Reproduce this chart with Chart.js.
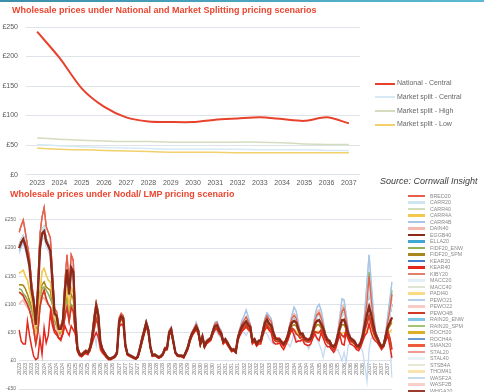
<!DOCTYPE html>
<html>
<head>
<meta charset="utf-8">
<script src="https://cdn.jsdelivr.net/npm/chart.js@4.4.1/dist/chart.umd.min.js"></script>
<style>
  html, body { margin: 0; padding: 0; background: #fff; }
  body { width: 484px; height: 392px; overflow: hidden; position: relative; font-family: "Liberation Sans", Arial, sans-serif; }
  #topbar { position: absolute; left: 0; top: 0; width: 484px; height: 2px; background: linear-gradient(90deg, #3d8eab, #5bbad2); }
  .title { position: absolute; font-weight: bold; color: #ea4630; white-space: nowrap; font-size: 9px; line-height: 11px; }
  #t1 { left: 12px; top: 5px; }
  #t2 { left: 10px; top: 189px; }
  #c1 { position: absolute; left: 0; top: 0; }
  #c2 { position: absolute; left: 0; top: 186px; }
  #source { position: absolute; left: 380px; top: 175px; font-style: italic; font-size: 9px; line-height: 12px; color: #404040; white-space: nowrap; }
</style>
</head>
<body>
<div id="topbar"></div>
<canvas id="c1" width="484" height="195"></canvas>
<canvas id="c2" width="484" height="209"></canvas>
<div class="title" id="t1">Wholesale prices under National and Market Splitting pricing scenarios</div>
<div class="title" id="t2">Wholesale prices under Nodal/ LMP pricing scenario</div>
<div id="source">Source: Cornwall Insight</div>
<script>
// ---- top chart data
const years = ['2023','2024','2025','2026','2027','2028','2029','2030','2031','2032','2033','2034','2035','2036','2037'];
const national     = [242, 198, 146, 115, 97, 90, 89, 89, 93, 95, 97, 94, 91, 97, 87];
const splitCentral = [51, 49, 47, 46, 45, 44, 43, 43, 43, 43, 42, 42, 42, 41, 41];
const splitHigh    = [62, 60, 58, 57, 56, 56, 55, 55, 55, 55, 55, 54, 52, 51, 51];
const splitLow     = [45, 43, 42, 41, 40, 39, 38, 38, 38, 37, 37, 37, 37, 37, 37];
const topNames = ['National - Central', 'Market split - Central', 'Market split - High', 'Market split - Low'];

// ---- bottom chart data (monthly, 2023-2037)
const nodalYears = years;
const nodalMonths = nodalYears.flatMap(y => Array(12).fill(y));

const nodalDark = [
  200,210,216,205,188,168,125,104,64,120,200,226,
  230,212,204,195,140,84,80,57,57,68,125,162,
  118,165,158,70,22,12,10,14,17,15,22,40,
  70,97,80,33,20,14,8,4,4,6,8,15,
  70,79,76,28,12,10,8,6,4,8,22,38,
  52,67,55,25,10,11,9,6,8,12,22,22,
  50,56,35,15,10,9,9,7,15,24,38,48,
  54,61,53,31,43,26,34,37,40,52,62,63,
  54,49,34,38,32,25,19,20,16,40,52,61,
  66,70,64,60,35,38,30,35,36,52,67,73,
  66,63,50,40,38,38,33,30,35,44,59,68,
  71,68,57,47,48,40,38,37,40,52,65,71,
  72,65,57,45,37,35,27,25,30,45,60,72,
  73,62,48,40,37,34,27,26,32,45,64,82,
  96,82,64,48,40,31,25,28,44,60,68,77
];
const nodalSalmon = [
  228,240,250,228,205,182,138,112,72,135,225,255,
  272,238,228,218,155,92,88,62,62,75,142,188,
  132,188,178,80,25,14,12,16,19,17,25,46,
  80,104,88,36,22,15,9,5,5,7,9,17,
  76,84,80,30,13,11,9,7,5,9,24,42,
  56,70,58,27,11,12,10,7,9,13,24,24,
  53,59,37,16,11,10,10,8,16,26,41,51,
  58,65,56,33,45,28,36,39,42,55,66,68,
  58,52,36,40,34,27,21,22,18,43,56,66,
  72,78,70,64,37,40,32,37,38,56,72,80,
  74,70,54,42,40,40,35,32,37,48,64,76,
  80,76,62,50,50,42,40,39,43,56,72,82,
  85,76,63,48,39,37,29,27,33,50,70,88,
  92,72,52,42,39,36,29,28,35,50,75,105,
  150,110,75,52,42,33,27,30,48,70,90,118
];
const nodalPale = [
  205,215,222,208,190,170,128,106,66,124,208,232,
  238,216,208,198,142,86,82,58,58,70,128,168,
  120,170,162,72,23,13,11,15,18,16,23,42,
  74,100,83,34,21,15,9,5,5,7,9,16,
  72,81,78,29,13,11,9,7,5,9,23,40,
  54,69,57,26,11,12,10,7,9,13,23,23,
  52,58,36,16,11,10,10,8,16,25,40,50,
  56,64,55,32,44,27,35,38,41,54,65,66,
  56,51,35,39,33,26,20,21,17,42,54,64,
  70,76,68,62,36,39,31,36,37,54,70,78,
  70,67,52,41,39,39,34,31,36,46,62,74,
  78,74,60,48,49,41,39,38,41,54,70,78,
  80,72,60,46,38,36,28,26,31,48,68,82,
  85,68,50,41,38,35,28,27,33,48,72,100,
  128,100,70,50,41,32,26,29,46,66,82,100
];
const nodalYellow = [
  155,158,161,150,143,125,107,80,50,60,119,158,
  164,152,143,140,110,75,70,52,52,60,100,125,
  95,130,120,62,20,11,9,13,16,14,20,36,
  62,88,72,30,18,13,7,4,4,5,7,14,
  64,72,70,26,11,9,7,5,4,7,20,35,
  48,62,50,23,9,10,8,5,7,11,20,20,
  46,52,32,14,9,8,8,6,14,22,35,44,
  50,56,49,29,40,24,31,34,37,48,56,57,
  50,45,31,35,29,23,17,18,15,36,47,55,
  58,60,55,52,32,34,27,31,32,46,56,60,
  55,52,42,36,34,34,30,27,31,38,48,54,
  55,52,46,40,42,36,34,33,36,44,50,52,
  52,48,44,38,33,31,24,22,27,38,46,50,
  50,46,40,35,33,30,24,23,28,38,48,55,
  60,55,48,40,36,28,22,25,38,48,52,55
];
const nodalOlive = [
  135,135,134,128,118,107,95,80,55,62,120,135,
  140,131,128,125,100,70,66,50,50,58,95,115,
  88,118,110,58,20,11,9,13,16,14,20,37,
  64,90,75,31,19,13,7,4,4,5,7,14,
  66,75,72,27,11,9,7,5,4,7,21,36,
  50,63,52,24,9,10,8,5,7,11,21,21,
  47,53,33,14,9,8,8,6,14,23,36,45,
  51,58,50,30,41,25,32,35,38,50,59,60,
  51,46,32,36,30,24,18,19,15,38,49,58,
  62,65,60,56,33,36,28,33,34,49,62,67,
  62,59,47,38,36,36,31,28,33,41,55,62,
  64,62,52,44,45,38,36,35,38,48,58,64,
  64,58,52,42,35,33,25,23,28,42,55,64,
  64,56,45,38,35,32,25,24,30,42,58,70,
  80,70,56,44,38,29,23,26,41,55,62,68
];
const nodalGreen = [
  128,126,119,115,108,100,90,72,50,58,110,128,
  131,125,119,110,101,68,62,48,48,55,90,105,
  82,100,95,55,19,11,9,13,16,14,20,37,
  66,92,76,32,19,14,8,4,4,6,8,15,
  68,77,74,27,12,10,8,6,4,8,21,37,
  51,66,55,25,10,11,9,6,8,12,22,22,
  50,56,35,15,10,9,9,7,15,24,38,48,
  55,63,54,31,43,26,34,37,40,53,64,65,
  55,50,34,38,32,25,19,20,16,41,53,63,
  68,74,66,61,35,38,30,35,36,53,69,77,
  70,67,51,40,38,38,33,30,35,45,62,74,
  80,75,60,46,46,40,38,37,40,53,70,80,
  84,75,60,45,37,35,27,25,30,47,68,88,
  95,70,50,40,37,34,27,26,32,47,75,110,
  158,110,72,50,40,31,25,28,46,70,95,125
];
const nodalPink = [
  100,105,108,100,95,88,78,65,45,55,100,110,
  112,105,100,95,80,60,58,45,45,52,80,98,
  75,95,90,52,18,10,8,12,15,13,19,35,
  60,85,70,29,18,13,7,4,4,5,7,14,
  64,72,70,26,11,9,7,5,4,7,20,35,
  49,63,52,24,9,10,8,5,7,11,21,21,
  48,54,34,14,9,8,8,6,14,23,37,47,
  54,62,54,31,43,26,34,37,40,53,64,66,
  56,50,34,38,32,25,19,20,16,41,54,64,
  70,76,68,62,35,38,30,35,36,54,71,80,
  74,72,54,40,38,38,33,30,35,46,64,78,
  84,80,63,48,48,40,38,37,41,55,74,86,
  90,80,64,46,37,35,27,25,31,49,72,95,
  100,75,52,41,37,34,27,26,33,49,80,118,
  140,105,74,50,40,31,25,28,47,72,92,110
];
const nodalBlueHigh = [
  195,205,212,200,185,165,122,102,62,118,198,224,
  228,210,202,192,138,82,78,56,56,67,122,160,
  116,162,155,68,21,12,10,14,17,15,22,40,
  68,95,78,32,20,14,8,4,4,6,8,15,
  70,80,77,28,12,10,8,6,4,8,22,38,
  54,70,58,26,10,11,9,6,8,12,22,22,
  52,60,37,15,10,9,9,7,15,24,38,50,
  58,68,58,32,44,27,35,38,41,55,68,70,
  60,54,36,39,33,26,20,21,17,43,58,72,
  80,90,78,64,36,39,31,36,37,56,76,85,
  80,75,55,42,39,39,34,31,36,48,66,82,
  95,88,68,50,50,42,40,39,43,58,80,95,
  100,90,70,48,39,37,29,27,33,52,80,110,
  108,82,56,43,39,36,29,28,35,52,90,140,
  188,140,90,55,42,33,27,30,50,80,110,140
];
const nodalBlueLow = [
  190,200,208,196,180,160,118,98,60,112,190,215,
  218,202,195,186,132,80,76,54,54,64,118,154,
  112,156,150,66,20,11,9,13,16,14,20,36,
  50,28,60,28,16,10,6,3,3,5,7,13,
  66,75,72,26,11,9,7,5,4,7,20,36,
  48,60,52,23,9,10,8,5,7,11,20,20,
  46,52,33,14,9,8,8,6,14,22,36,45,
  50,56,48,29,40,24,31,34,37,48,55,50,
  44,40,31,35,29,23,17,18,15,36,45,50,
  50,45,52,55,32,34,27,31,32,45,50,48,
  40,35,30,34,34,34,30,27,31,30,25,35,
  50,40,35,34,40,34,30,21,30,40,45,38,
  30,20,6,25,28,30,20,15,18,20,10,0,
  15,-3,28,30,30,28,22,20,25,15,-10,-36,
  20,40,45,38,35,28,22,25,35,45,30,-30
];
const nodalRedLow = [
  55,35,30,30,70,45,25,8,2,5,40,12,
  58,32,45,85,62,50,46,40,36,48,62,52,
  45,62,55,48,18,9,7,11,13,11,19,30,
  42,50,42,20,14,10,5,2,2,4,6,12,
  60,65,62,24,10,8,6,4,3,6,18,32,
  46,60,50,22,8,9,7,5,6,10,18,20,
  45,50,32,13,8,7,7,5,12,20,34,44,
  50,55,48,28,40,24,30,33,36,47,55,56,
  48,44,30,34,28,22,16,18,14,36,45,52,
  56,60,55,52,30,34,26,30,30,45,55,60,
  54,50,33,30,30,32,25,20,28,36,48,55,
  45,33,35,35,38,30,28,27,30,40,48,40,
  36,50,40,30,25,25,20,15,22,35,45,30,
  28,50,38,30,28,25,20,18,25,35,45,50,
  66,50,40,35,32,26,20,25,35,45,25,5
];
const nodalRedMid = [
  122,119,115,107,100,90,75,55,30,50,95,115,
  125,110,100,95,75,55,50,40,40,48,80,95,
  70,95,88,50,17,10,8,12,15,13,18,34,
  55,75,62,27,17,12,7,4,4,5,7,13,
  66,74,72,26,11,9,7,5,4,7,20,35,
  49,64,52,24,9,10,8,5,7,11,20,20,
  47,53,33,14,9,8,8,6,14,22,36,46,
  52,58,50,29,41,25,32,35,38,49,58,58,
  50,46,32,36,30,24,18,19,15,38,48,56,
  60,64,58,56,33,36,28,33,34,48,60,64,
  58,55,42,35,34,35,30,26,32,38,50,58,
  55,48,45,40,44,36,34,33,36,46,52,50,
  50,55,48,38,32,30,23,20,26,40,50,45,
  42,55,42,35,33,30,24,22,28,40,55,66,
  80,65,52,42,36,28,22,26,40,52,40,20
];

const nodalNames = ['BRED20','CARR20','CARR40','CARR4A','CARR4B','DAIN40','EGGB40','ELLA20','FIDF20_ENW','FIDF20_SPM',
  'KEAR20','KEAR40','KIBY20','MACC20','MACC40','PADI40','PEWO21','PEWO22','PEWO4B','RAIN20_ENW','RAIN20_SPM',
  'ROCH20','ROCH4A','SMAN20','STAL20','STAL40','STSB4A','THOM41','WASF2A','WASF2B','WHGA20'];
const nodalValues = [nodalSalmon, nodalPale, nodalPale, nodalYellow, nodalBlueHigh, nodalPink, nodalDark, nodalPale, nodalGreen, nodalOlive,
  nodalPale, nodalRedLow, nodalSalmon, nodalPale, nodalPale, nodalYellow, nodalBlueHigh, nodalPink, nodalRedMid, nodalPale, nodalGreen,
  nodalOlive, nodalPale, nodalRedMid, nodalSalmon, nodalPale, nodalPale, nodalYellow, nodalBlueLow, nodalPink, nodalDark];

// ---- styles
const topColors = ['#e8412c', '#d6e9f4', '#d4ddbf', '#f2d06a'];
const topWidths = [2, 1.5, 1.5, 1.5];
const nodalColors = ['#e8604c','#cfe6f1','#d3dcbf','#f2c94c','#a7c6e6','#f5b8ae','#8c2a19','#3ea6d3','#8fb05c','#a8871e',
  '#3f7fc9','#e5261b','#e57d6d','#e3eff7','#dde4cf','#f7db86','#b5d0ee','#f8cbc4','#d23a28','#7fc6e4','#a9c272',
  '#dcae2c','#6b9bd6','#ef5a3c','#ef9a90','#e9f2f7','#e2e9d5','#fae4b0','#c5d9ef','#f7cfcb','#9a3b2b'];
const nodalLayer = n => n === 'EGGB40' ? 0 : n === 'WHGA20' ? 1 : ['KEAR40','PEWO4B','SMAN20'].includes(n) ? 2 : 4;

Chart.defaults.font.family = '"Liberation Sans", Arial, sans-serif';
Chart.defaults.animation = false;

new Chart(document.getElementById('c1'), {
  type: 'line',
  data: {
    labels: years,
    datasets: [national, splitCentral, splitHigh, splitLow].map((d, k) => ({
      label: topNames[k], data: d, borderColor: topColors[k], backgroundColor: topColors[k],
      borderWidth: topWidths[k], pointRadius: 0, tension: 0.25, fill: false
    }))
  },
  options: {
    responsive: false,
    devicePixelRatio: 1,
    layout: { padding: { top: 27, right: 124, bottom: 4, left: 0 } },
    plugins: { legend: { display: false }, tooltip: { enabled: false } },
    scales: {
      x: {
        offset: true,
        grid: { drawOnChartArea: false, drawTicks: false, color: 'rgba(0,0,0,0)' },
        border: { display: false },
        ticks: { color: '#595959', font: { size: 7 }, maxRotation: 0, autoSkip: false, padding: 4 }
      },
      y: {
        min: 0, max: 250,
        border: { display: false },
        grid: { color: '#dde3e8', drawTicks: false },
        afterFit: s => { s.width = 26; },
        ticks: { stepSize: 50, color: '#595959', font: { size: 7 }, padding: 8, callback: v => '£' + v }
      }
    }
  }
});

new Chart(document.getElementById('c2'), {
  type: 'line',
  data: {
    labels: nodalMonths,
    datasets: nodalNames.map((n, k) => ({
      label: n, data: nodalValues[k], borderColor: nodalColors[k], backgroundColor: nodalColors[k],
      borderWidth: n === 'EGGB40' ? 2.4 : (nodalLayer(n) === 2 ? 1.5 : 1.3),
      pointRadius: 0, tension: 0, fill: false, order: nodalLayer(n)
    }))
  },
  options: {
    responsive: false,
    devicePixelRatio: 1,
    layout: { padding: { top: 17, right: 92, bottom: 1, left: 2 } },
    plugins: { legend: { display: false }, tooltip: { enabled: false } },
    scales: {
      x: {
        position: { y: 0 },
        grid: { drawOnChartArea: false, drawTicks: false, color: 'rgba(0,0,0,0)' },
        border: { display: false },
        ticks: {
          color: '#7a7a7a', font: { size: 5.5 }, autoSkip: false, minRotation: 90, maxRotation: 90, padding: 2,
          callback: (v, i) => i % 3 === 0 ? nodalMonths[i] : ''
        }
      },
      y: {
        min: -50, max: 280,
        border: { display: false },
        grid: { color: '#dde3e8', drawTicks: false },
        afterBuildTicks: s => { s.ticks = s.ticks.filter(t => t.value % 50 === 0); },
        ticks: { stepSize: 50, color: '#6b6b6b', font: { size: 5 }, padding: 3,
          callback: v => v < 0 ? '-£' + (-v) : '£' + v }
      }
    }
  }
});

// ---- legends (drawn as page text next to the canvases)
function legend(names, colors, widths, lineX, lineW, textX, y0, dy, size, color) {
  names.forEach((n, k) => {
    const cy = y0 + dy * k;
    const line = document.createElement('div');
    line.style.cssText = `position:absolute;left:${lineX}px;top:${cy - widths[k] / 2}px;width:${lineW}px;height:${widths[k]}px;background:${colors[k]}`;
    document.body.appendChild(line);
    const t = document.createElement('div');
    t.textContent = n;
    t.style.cssText = `position:absolute;left:${textX}px;top:${cy - size * 0.6}px;font-size:${size}px;line-height:${size * 1.2}px;color:${color};white-space:nowrap`;
    document.body.appendChild(t);
  });
}
legend(topNames, topColors, [2, 2, 2, 2], 375, 20, 397, 83.5, 13.7, 7, '#666');
legend(nodalNames, nodalColors, nodalNames.map(n => n === 'EGGB40' || n === 'WHGA20' ? 2.6 : 2.2), 408, 17, 430, 196, 6.5, 5.3, '#8a8a8a');
</script>
</body>
</html>
